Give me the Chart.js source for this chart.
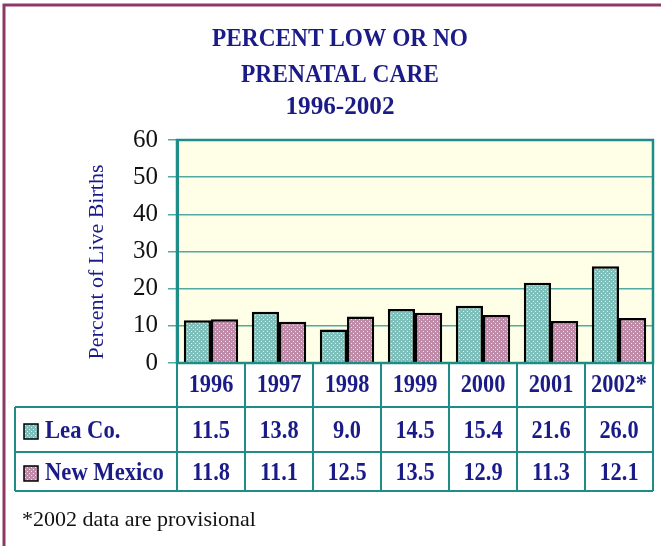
<!DOCTYPE html>
<html lang="en">
<head>
  <meta charset="UTF-8">
  <title>Percent Low or No Prenatal Care</title>
  <script src="https://cdn.jsdelivr.net/npm/chart.js"></script>
  <style>
    body { margin: 0; background: #ffffff; }
    canvas { display: block; }
  </style>
</head>
<body>
  <canvas id="careChart" width="661" height="546"></canvas>

  <script>
    const years = ['1996', '1997', '1998', '1999', '2000', '2001', '2002*'];
    const seriesNames = ['Lea Co.', 'New Mexico'];
    const leaCo = [11.5, 13.8, 9.0, 14.5, 15.4, 21.6, 26.0];
    const newMexico = [11.8, 11.1, 12.5, 13.5, 12.9, 11.3, 12.1];
    const yTicks = [0, 10, 20, 30, 40, 50, 60];
    const titleLines = ['PERCENT LOW OR NO', 'PRENATAL CARE', '1996-2002'];
    const yTitle = 'Percent of Live Births';
    const footnote = '*2002 data are provisional';

    const navy = '#1b1b88';
    const teal = '#1f8d87';
    const serif = '"Liberation Serif", "DejaVu Serif", serif';

    // dotted fills like the original bars
    function dotted(base) {
      const c = document.createElement('canvas');
      c.width = 4; c.height = 4;
      const g = c.getContext('2d');
      g.fillStyle = base;
      g.fillRect(0, 0, 4, 4);
      g.fillStyle = 'rgba(255,255,255,0.75)';
      g.fillRect(1, 1, 1, 1);
      g.fillRect(3, 3, 1, 1);
      return g.createPattern(c, 'repeat');
    }
    const tealFill = dotted('#7cbfbb');
    const pinkFill = dotted('#c08aa9');
    const fills = [tealFill, pinkFill];

    // the original type is a narrow bold Times, so squeeze it a bit
    function narrow(ctx, text, x, y, align, sx) {
      ctx.save();
      ctx.translate(x, y);
      ctx.scale(sx, 1);
      ctx.textAlign = align;
      ctx.fillText(text, 0, 0);
      ctx.restore();
    }

    const decor = {
      id: 'decor',
      beforeDraw(chart) {
        const { ctx, chartArea: a } = chart;
        ctx.save();
        ctx.fillStyle = '#ffffff';
        ctx.fillRect(0, 0, chart.width, chart.height);
        // frame
        ctx.strokeStyle = '#8c3a64';
        ctx.lineWidth = 3;
        ctx.beginPath();
        ctx.moveTo(4, chart.height);
        ctx.lineTo(4, 5);
        ctx.lineTo(chart.width, 5);
        ctx.stroke();
        // plot background
        ctx.fillStyle = '#ffffe8';
        ctx.fillRect(a.left, a.top, a.right - a.left, a.bottom - a.top);
        ctx.restore();
      },
      afterDraw(chart) {
        const { ctx, chartArea: a } = chart;
        const x = chart.scales.x;
        ctx.save();

        // plot border
        ctx.strokeStyle = teal;
        ctx.lineWidth = 2.5;
        ctx.strokeRect(a.left, a.top, a.right - a.left, a.bottom - a.top);

        // title
        ctx.fillStyle = navy;
        ctx.textAlign = 'center';
        ctx.textBaseline = 'middle';
        ctx.font = 'bold 26px ' + serif;
        const widths = [256, 198, 109];
        const ys = [39, 75, 107];
        titleLines.forEach((t, i) => ctx.fillText(t, 340, ys[i], widths[i]));

        // y axis title
        ctx.save();
        ctx.translate(97, 262);
        ctx.rotate(-Math.PI / 2);
        ctx.font = '22px ' + serif;
        ctx.fillStyle = navy;
        ctx.fillText(yTitle, 0, 0);
        ctx.restore();

        // data table
        const half = (x.getPixelForValue(1) - x.getPixelForValue(0)) / 2;
        const rowLines = [a.bottom, 407, 452, 491];
        const rowMid = [431, 473];
        const tableLeft = 15;
        ctx.strokeStyle = teal;
        ctx.lineWidth = 2;
        ctx.beginPath();
        for (let r = 1; r < rowLines.length; r++) {
          ctx.moveTo(tableLeft, rowLines[r]);
          ctx.lineTo(a.right, rowLines[r]);
        }
        ctx.moveTo(tableLeft, rowLines[1]);
        ctx.lineTo(tableLeft, rowLines[3]);
        for (let i = 0; i <= years.length; i++) {
          const edge = i < years.length ? x.getPixelForValue(i) - half : x.getPixelForValue(years.length - 1) + half;
          ctx.moveTo(edge, rowLines[0]);
          ctx.lineTo(edge, rowLines[3]);
        }
        ctx.stroke();

        ctx.font = 'bold 26px ' + serif;
        ctx.fillStyle = navy;
        const rows = [leaCo, newMexico];
        years.forEach((yr, i) => {
          const cx = x.getPixelForValue(i);
          narrow(ctx, yr, cx, 385, 'center', 0.86);
          rows.forEach((vals, r) => narrow(ctx, vals[i].toFixed(1), cx, rowMid[r], 'center', 0.86));
        });

        // legend cells
        seriesNames.forEach((name, r) => {
          const cy = rowMid[r];
          ctx.fillStyle = fills[r];
          ctx.fillRect(24, cy - 7, 14, 15);
          ctx.strokeStyle = '#000';
          ctx.lineWidth = 1.5;
          ctx.strokeRect(24, cy - 7, 14, 15);
          ctx.fillStyle = navy;
          narrow(ctx, name, 45, cy, 'left', 0.87);
        });

        // footnote
        ctx.font = '22px ' + serif;
        ctx.fillStyle = '#111';
        ctx.textAlign = 'left';
        ctx.fillText(footnote, 22, 520);
        ctx.restore();
      }
    };

    const ctx = document.getElementById('careChart').getContext('2d');
    new Chart(ctx, {
      type: 'bar',
      data: {
        labels: years,
        datasets: [
          { label: seriesNames[0], data: leaCo, backgroundColor: tealFill },
          { label: seriesNames[1], data: newMexico, backgroundColor: pinkFill }
        ]
      },
      options: {
        responsive: false,
        animation: false,
        layout: { padding: { top: 140, right: 8, bottom: 183, left: 0 } },
        datasets: {
          bar: {
            categoryPercentage: 0.8,
            barPercentage: 1,
            borderColor: '#000',
            borderWidth: 2.5
          }
        },
        plugins: {
          legend: { display: false },
          title: { display: false },
          tooltip: { enabled: false }
        },
        scales: {
          x: { display: false },
          y: {
            min: 0,
            max: 60,
            afterFit: s => { s.width = 177; },
            afterBuildTicks: s => { s.ticks = yTicks.map(v => ({ value: v })); },
            grid: { color: '#52a9a1', lineWidth: 1.5, tickLength: 9 },
            border: { color: teal, width: 3 },
            ticks: {
              color: '#111',
              padding: 10,
              font: { family: serif, size: 25 }
            }
          }
        }
      },
      plugins: [decor]
    });
  </script>
</body>
</html>
